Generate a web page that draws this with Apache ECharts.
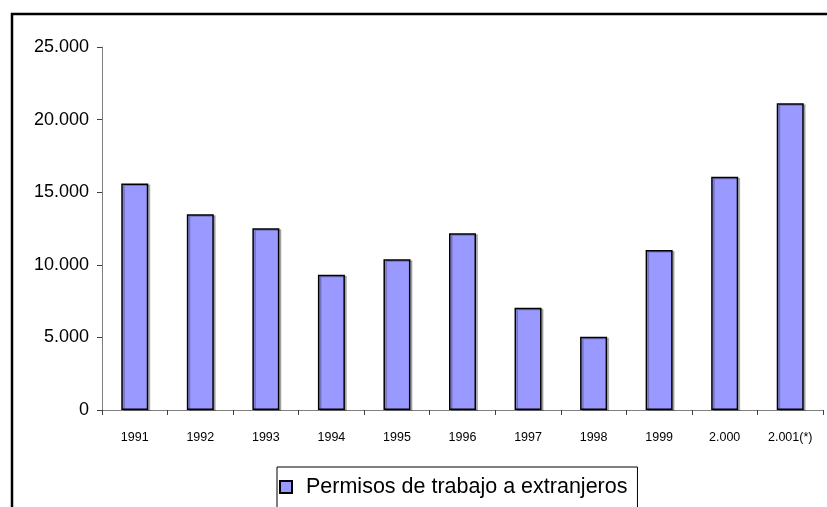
<!DOCTYPE html>
<html>
<head>
<meta charset="utf-8">
<script src="https://cdn.jsdelivr.net/npm/echarts@6/dist/echarts.min.js"></script>
<style>
  html, body { margin: 0; padding: 0; background: #ffffff; }
  #chart { width: 827px; height: 507px; }
</style>
</head>
<body>
<div id="chart"></div>
<script>
// datos
const years = ['1991', '1992', '1993', '1994', '1995', '1996', '1997', '1998', '1999', '2.000', '2.001(*)']
const permisos = [15600, 13480, 12510, 9320, 10380, 12170, 7050, 5050, 11020, 16070, 21120]
const seriesName = 'Permisos de trabajo a extranjeros'

const font = 'Arial, "Liberation Sans", sans-serif'

// miles con punto: 25000 -> 25.000
function fmt (v) {
  return String(v).replace(/\B(?=(\d{3})+(?!\d))/g, '.')
}

const chart = echarts.init(document.getElementById('chart'))
chart.setOption({
  animation: false,
  textStyle: { fontFamily: font },
  graphic: [
    {
      // marco exterior del grafico (cortado a la derecha y abajo)
      type: 'rect',
      shape: { x: 12, y: 14, width: 830, height: 520 },
      style: { fill: 'none', stroke: '#000000', lineWidth: 2.5 },
      silent: true
    }
  ],
  grid: { left: 102, right: 4, top: 47, bottom: 97 },
  legend: {
    data: [seriesName],
    left: 277,
    top: 467,
    padding: [9, 10, 22, 2],
    itemWidth: 12,
    itemHeight: 12,
    itemGap: 0,
    borderColor: '#000000',
    borderWidth: 1,
    icon: 'rect',
    textStyle: { fontFamily: font, fontSize: 21.5, color: '#000000', padding: [0, 0, 0, 9] }
  },
  xAxis: {
    type: 'category',
    data: years,
    boundaryGap: true,
    axisLine: { lineStyle: { color: '#808080', width: 1 } },
    axisTick: { show: true, inside: false, length: 5, alignWithLabel: false, lineStyle: { color: '#404040' } },
    axisLabel: { color: '#000000', fontSize: 12.5, fontFamily: font, margin: 21, interval: 0 }
  },
  yAxis: {
    type: 'value',
    min: 0,
    max: 25000,
    interval: 5000,
    splitLine: { show: false },
    axisLine: { show: true, lineStyle: { color: '#808080', width: 1 } },
    axisTick: { show: true, length: 5, lineStyle: { color: '#404040' } },
    axisLabel: { color: '#000000', fontSize: 18, fontFamily: font, margin: 13, formatter: fmt }
  },
  series: [
    {
      name: seriesName,
      type: 'bar',
      data: permisos,
      barWidth: 27,
      itemStyle: {
        color: '#9999ff',
        borderColor: '#000000',
        borderWidth: 1.5,
        shadowColor: 'rgba(0, 0, 0, 0.25)',
        shadowOffsetX: 2,
        shadowOffsetY: 1,
        shadowBlur: 0
      }
    }
  ]
})
</script>
</body>
</html>
